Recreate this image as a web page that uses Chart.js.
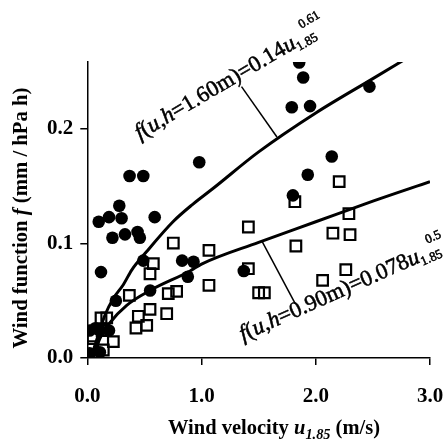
<!DOCTYPE html>
<html><head><meta charset="utf-8">
<script src="https://cdn.jsdelivr.net/npm/chart.js@4.4.0/dist/chart.umd.min.js"></script>
<style>html,body{margin:0;padding:0;background:#fff}#wrap{width:444px;height:444px;position:relative}</style>
</head><body><div id="wrap"><canvas id="c"></canvas></div>
<script>
// ---- data ----
const xTicks = [0, 1, 2, 3];
const yTicks = [0, 0.1, 0.2];

const circleU = [0.02,0.02,0.07,0.11,0.11,0.19,0.10,0.12,0.19,0.22,0.28,0.30,0.25,0.33,0.37,0.49,0.44,0.46,0.49,0.55,0.59,0.83,0.93,0.88,0.98,1.37,1.79,1.80,1.855,1.89,1.93,1.95,2.14,2.47];
const circleF = [0.004,0.024,0.026,0.005,0.024,0.024,0.119,0.075,0.123,0.105,0.133,0.122,0.050,0.108,0.159,0.159,0.110,0.105,0.085,0.059,0.123,0.085,0.084,0.071,0.171,0.076,0.219,0.142,0.258,0.245,0.160,0.220,0.176,0.237];

const squareU = [2.205,2.29,1.817,1.41,0.753,1.065,0.578,0.549,0.368,0.709,0.782,1.065,0.447,0.549,0.695,0.426,0.52,1.41,1.50,1.55,1.826,2.15,2.30,2.263,2.06,0.12,0.17,0.228,0.05,0.038,0.14,0.13];
const squareF = [0.154,0.126,0.1365,0.1144,0.1004,0.094,0.0824,0.0736,0.0547,0.0562,0.0582,0.0635,0.0364,0.0425,0.0387,0.0262,0.0285,0.078,0.057,0.057,0.0978,0.109,0.1077,0.0771,0.0678,0.035,0.035,0.0143,0.017,0.010,0.007,0.024];

const curve160U = [0.035,0.05,0.096,0.155,0.228,0.315,0.39,0.52,0.75,0.92,1.1,1.5,2.0,2.5,3.0];
const curve160F = [0.0,0.0055,0.020,0.0376,0.052,0.064,0.077,0.093,0.119,0.134,0.148,0.180,0.214,0.244,0.274];

const curve090U = [0.05,0.067,0.11,0.2,0.345,0.55,0.9,1.0,1.5,2.0,2.5,3.0];
const curve090F = [0.0,0.0055,0.017,0.031,0.046,0.059,0.076,0.082,0.101,0.119,0.137,0.154];

const leader160U = [1.35, 1.66];
const leader160F = [0.237, 0.193];
const leader090U = [1.53, 1.82];
const leader090F = [0.1019, 0.0474];

// ---- build chart ----
const pts = (xs, ys) => xs.map((x, i) => ({x: x, y: ys[i]}));
const SERIF = "'Liberation Serif', 'DejaVu Serif', serif";

function drawRich(ctx, segs, x, y, ang, align, stroke, target) {
  ctx.save();
  ctx.translate(x, y);
  ctx.rotate(ang);
  ctx.textBaseline = 'alphabetic';
  ctx.textAlign = 'left';
  ctx.fillStyle = '#000';
  ctx.strokeStyle = '#000';
  let w = 0;
  segs.forEach(s => { ctx.font = s.font; s.w = ctx.measureText(s.t).width + (s.dx || 0); w += s.w; });
  if (target) { const k = target / w; ctx.scale(k, k); }
  ctx.lineWidth = stroke || 0;
  let cx = align === 'center' ? -w / 2 : 0;
  segs.forEach(s => {
    ctx.font = s.font;
    ctx.fillText(s.t, cx + (s.dx || 0), s.dy || 0);
    if (stroke) ctx.strokeText(s.t, cx + (s.dx || 0), s.dy || 0);
    cx += s.w;
  });
  ctx.restore();
}

const textPlugin = {
  id: 'texts',
  afterDraw(chart) {
    const ctx = chart.ctx;
    const xs = chart.scales.x, ys = chart.scales.y;
    const R = '21px ' + SERIF, I = 'italic 21px ' + SERIF, S = '12px ' + SERIF;
    // upper annotation
    drawRich(ctx, [
      {t: 'f', font: I}, {t: '(', font: R}, {t: 'u', font: I}, {t: ',', font: R}, {t: 'h', font: I},
      {t: '=1.60m)=0.14', font: R}, {t: 'u', font: I}, {t: '1.85', font: S, dy: 4},
      {t: '0.61', font: S, dy: -13, dx: -9}
    ], xs.getPixelForValue(0.46), ys.getPixelForValue(0.1905), -30.5 * Math.PI / 180, 'left', 0.5, 218);
    // lower annotation
    drawRich(ctx, [
      {t: 'f', font: I}, {t: '(', font: R}, {t: 'u', font: I}, {t: ',', font: R}, {t: 'h', font: I},
      {t: '=0.90m)=0.078', font: R}, {t: 'u', font: I}, {t: '1.85', font: S, dy: 4},
      {t: '0.5', font: S, dy: -13, dx: -9}
    ], xs.getPixelForValue(1.363), ys.getPixelForValue(0.0148), -24 * Math.PI / 180, 'left', 0.5, 224);
    // x axis title
    const B = 'bold 20px ' + SERIF, BI = 'bold italic 20px ' + SERIF, BS = 'bold italic 14px ' + SERIF;
    drawRich(ctx, [
      {t: 'Wind velocity ', font: B}, {t: 'u', font: BI}, {t: '1.85', font: BS, dy: 5}, {t: ' (m/s)', font: B}
    ], 274, 434, 0, 'center', 0, 212);
    // y axis title
    drawRich(ctx, [
      {t: 'Wind function ', font: B}, {t: 'f', font: BI}, {t: ' (mm / hPa h)', font: B}
    ], 27, 218, -Math.PI / 2, 'center', 0, 261);
  }
};

new Chart(document.getElementById('c'), {
  type: 'scatter',
  data: {
    datasets: [
      {data: pts(curve160U, curve160F), showLine: true, borderColor: '#000', borderWidth: 3, pointRadius: 0, cubicInterpolationMode: 'monotone', fill: false},
      {data: pts(curve090U, curve090F), showLine: true, borderColor: '#000', borderWidth: 3, pointRadius: 0, cubicInterpolationMode: 'monotone', fill: false},
      {data: pts(leader160U, leader160F), showLine: true, borderColor: '#000', borderWidth: 1.5, pointRadius: 0},
      {data: pts(leader090U, leader090F), showLine: true, borderColor: '#000', borderWidth: 1.5, pointRadius: 0},
      {data: pts(squareU, squareF), pointStyle: 'rect', pointRadius: 7.5, borderColor: '#000', borderWidth: 2.2, backgroundColor: 'rgba(255,255,255,0)'},
      {data: pts(circleU, circleF), pointStyle: 'circle', pointRadius: 6.3, borderWidth: 0, backgroundColor: '#000'}
    ]
  },
  options: {
    responsive: true, maintainAspectRatio: false, animation: false,
    layout: {padding: {top: 62, right: 0, left: 0, bottom: 0}},
    plugins: {legend: {display: false}, tooltip: {enabled: false}},
    scales: {
      x: {
        type: 'linear', min: 0, max: 3,
        afterBuildTicks: s => { s.ticks = xTicks.map(v => ({value: v})); },
        afterFit: s => { s.height = 86; s.paddingRight = 14; s.paddingLeft = 0; },
        grid: {drawOnChartArea: false, drawTicks: true, tickLength: 7, color: '#000', lineWidth: 1.5},
        border: {display: true, color: '#000', width: 1.5},
        ticks: {color: '#000', padding: 19, maxRotation: 0, font: {family: SERIF, size: 21, weight: 'bold'}, callback: v => v.toFixed(1)}
      },
      y: {
        type: 'linear', min: 0, max: 0.2585,
        afterBuildTicks: s => { s.ticks = yTicks.map(v => ({value: v})); },
        afterFit: s => { s.width = 87.3; },
        grid: {drawOnChartArea: false, drawTicks: true, tickLength: 7, color: '#000', lineWidth: 1.5},
        border: {display: true, color: '#000', width: 1.5},
        ticks: {color: '#000', padding: 7, font: {family: SERIF, size: 21, weight: 'bold'}, callback: v => v.toFixed(1)}
      }
    }
  },
  plugins: [textPlugin]
});
</script>
</body></html>
